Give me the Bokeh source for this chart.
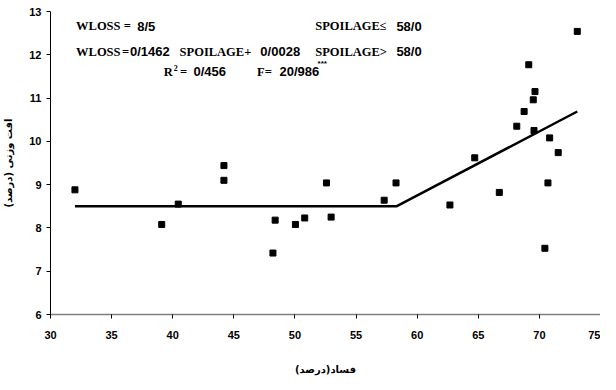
from bokeh.plotting import figure
from bokeh.models import Range1d, FixedTicker, Label
from bokeh.embed import file_html
from bokeh.resources import INLINE

# Observed data (spoilage %, weight loss %)
spoilage = [32.0, 39.1, 40.45, 44.19, 44.19, 48.2, 48.38, 50.04, 50.8, 52.58, 52.96,
            57.3, 58.27, 62.68, 64.71, 66.72, 68.15, 68.75, 69.13, 69.5, 69.56, 69.64,
            70.45, 70.7, 70.84, 71.54, 73.1]
weight_loss = [8.88, 8.08, 8.55, 9.44, 9.10, 7.42, 8.18, 8.08, 8.23, 9.04, 8.25,
               8.64, 9.04, 8.53, 9.62, 8.82, 10.35, 10.69, 11.77, 10.96, 10.25, 11.15,
               7.53, 9.04, 10.08, 9.74, 12.54]

# Fitted segmented regression line
fit_x = [32.0, 58.3, 73.1]
fit_y = [8.5, 8.5, 10.69]

x_ticks = [30, 35, 40, 45, 50, 55, 60, 65, 70, 75]
y_ticks = [6, 7, 8, 9, 10, 11, 12, 13]

x_title = "فساد(درصد)"
y_title = "افت وزنی (درصد)"

p = figure(width=600, height=382, x_range=Range1d(30, 75), y_range=Range1d(6, 13),
           output_backend="svg", toolbar_location=None,
           min_border_left=48, min_border_right=0, min_border_top=11, min_border_bottom=68)
p.outline_line_color = None
p.xgrid.grid_line_color = None
p.ygrid.grid_line_color = None
p.background_fill_color = "white"
p.border_fill_color = "white"

for ax in (p.xaxis, p.yaxis):
    ax.major_tick_in = 0
    ax.major_tick_out = 4
    ax.minor_tick_in = 0
    ax.minor_tick_out = 0
    ax.major_label_text_font = "Liberation Sans"
    ax.major_label_text_font_style = "bold"
    ax.major_label_text_font_size = "11px"
    ax.major_label_text_color = "black"
    ax.axis_label_text_font = "DejaVu Sans"
    ax.axis_label_text_font_style = "bold"
    ax.axis_label_text_font_size = "10px"
    ax.axis_label_text_color = "black"
    ax.major_tick_line_color = "black"

p.xaxis.ticker = FixedTicker(ticks=x_ticks)
p.yaxis.ticker = FixedTicker(ticks=y_ticks)
p.xaxis.axis_line_color = "#808080"
p.xaxis.axis_line_width = 1.5
p.yaxis.axis_line_color = "black"
p.xaxis.major_label_standoff = 12
p.yaxis.major_label_standoff = 5
p.xaxis.axis_label = x_title
p.yaxis.axis_label = y_title
p.xaxis.axis_label_standoff = 22
p.yaxis.axis_label_standoff = 12

p.line(fit_x, fit_y, line_color="black", line_width=2.5)
p.scatter(spoilage, weight_loss, marker="square", size=6, fill_color="black", line_color="black")

# Equation annotations
SERIF = "Liberation Serif"
SANS = "Liberation Sans"
BIG_SERIF = "12.5px"
BIG_SANS = "13px"
pieces = [
    ("WLOSS", 32.09, 12.66, SERIF, BIG_SERIF),
    ("=", 36.0, 12.66, SERIF, BIG_SERIF),
    ("8/5", 37.09, 12.66, SANS, BIG_SANS),
    ("SPOILAGE\u2264", 51.66, 12.66, SERIF, BIG_SERIF),
    ("58/0", 58.3, 12.66, SANS, BIG_SANS),
    ("WLOSS", 32.09, 12.07, SERIF, BIG_SERIF),
    ("=", 35.85, 12.07, SERIF, BIG_SERIF),
    ("0/1462", 36.5, 12.07, SANS, BIG_SANS),
    ("SPOILAGE+", 40.56, 12.07, SERIF, BIG_SERIF),
    ("0/0028", 47.17, 12.07, SANS, BIG_SANS),
    ("SPOILAGE>", 51.66, 12.07, SERIF, BIG_SERIF),
    ("58/0", 58.3, 12.07, SANS, BIG_SANS),
    ("R", 39.26, 11.61, SERIF, BIG_SERIF),
    ("2", 40.08, 11.69, SERIF, "8px"),
    ("=", 40.6, 11.61, SERIF, BIG_SERIF),
    ("0/456", 41.7, 11.61, SANS, BIG_SANS),
    ("F=", 46.9, 11.61, SERIF, BIG_SERIF),
    ("20/986", 48.74, 11.61, SANS, BIG_SANS),
    ("***", 51.85, 11.79, SANS, "8px"),
]
for txt, x, y, font, size in pieces:
    p.add_layout(Label(x=x, y=y, text=txt, text_font=font, text_font_style="bold",
                       text_font_size=size, text_align="left", text_baseline="middle",
                       text_color="black"))

open("out.html", "w").write(file_html(p, INLINE))
